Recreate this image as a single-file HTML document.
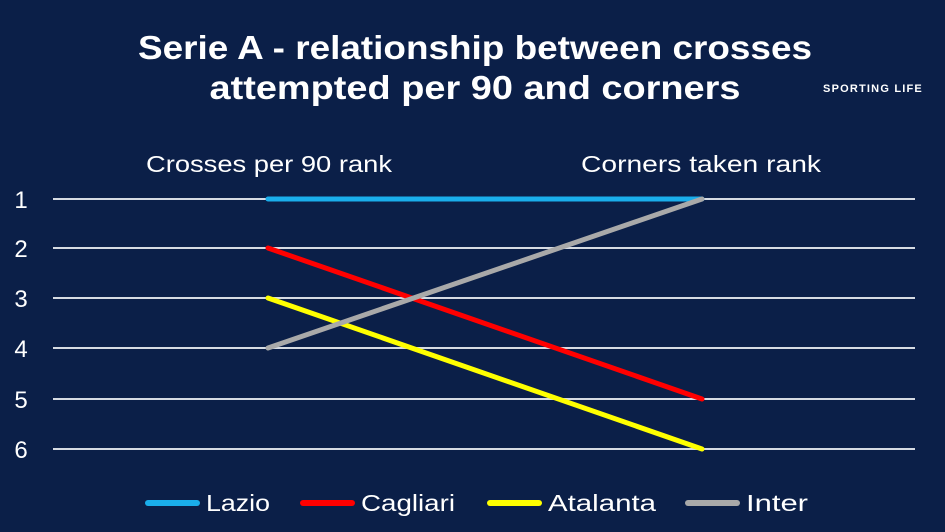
<!DOCTYPE html>
<html><head><style>
html,body{margin:0;padding:0;background:#0b1f48;}
svg{display:block}
text{font-family:"Liberation Sans",sans-serif;fill:#fff}
</style></head><body>
<svg width="945" height="532" viewBox="0 0 945 532">
<rect width="945" height="532" fill="#0b1f48"/>
<text x="475" y="59" font-size="33" font-weight="bold" text-anchor="middle" textLength="674" lengthAdjust="spacingAndGlyphs">Serie A - relationship between crosses</text>
<text x="475" y="99" font-size="33" font-weight="bold" text-anchor="middle" textLength="531" lengthAdjust="spacingAndGlyphs">attempted per 90 and corners</text>
<text x="873" y="92" font-size="11" font-weight="bold" text-anchor="middle" letter-spacing="1.2">SPORTING LIFE</text>
<text x="269" y="172" font-size="23" text-anchor="middle" textLength="246" lengthAdjust="spacingAndGlyphs">Crosses per 90 rank</text>
<text x="701" y="172" font-size="23" text-anchor="middle" textLength="240" lengthAdjust="spacingAndGlyphs">Corners taken rank</text>
<g stroke="#d6dbe3" stroke-width="2">
<line x1="53" y1="199" x2="915" y2="199"/>
<line x1="53" y1="248" x2="915" y2="248"/>
<line x1="53" y1="298" x2="915" y2="298"/>
<line x1="53" y1="348" x2="915" y2="348"/>
<line x1="53" y1="399" x2="915" y2="399"/>
<line x1="53" y1="449" x2="915" y2="449"/>
</g>
<g font-size="24" text-anchor="middle">
<text x="21" y="208">1</text><text x="21" y="257">2</text><text x="21" y="307">3</text>
<text x="21" y="357">4</text><text x="21" y="408">5</text><text x="21" y="458">6</text>
</g>
<g stroke-width="5" stroke-linecap="round" fill="none">
<line x1="268" y1="199" x2="702" y2="199" stroke="#1aaeeb"/>
<line x1="268" y1="248" x2="702" y2="399" stroke="#ff0000"/>
<line x1="268" y1="298" x2="702" y2="449" stroke="#ffff00"/>
<line x1="268" y1="348" x2="702" y2="199" stroke="#a9a9a9"/>
</g>
<g stroke-width="6" stroke-linecap="round">
<line x1="148" y1="503" x2="197" y2="503" stroke="#1aaeeb"/>
<line x1="303" y1="503" x2="352" y2="503" stroke="#ff0000"/>
<line x1="490" y1="503" x2="539" y2="503" stroke="#ffff00"/>
<line x1="688" y1="503" x2="737" y2="503" stroke="#a9a9a9"/>
</g>
<g font-size="23">
<text x="206" y="511" textLength="64" lengthAdjust="spacingAndGlyphs">Lazio</text>
<text x="361" y="511" textLength="94" lengthAdjust="spacingAndGlyphs">Cagliari</text>
<text x="548" y="511" textLength="108" lengthAdjust="spacingAndGlyphs">Atalanta</text>
<text x="746" y="511" textLength="62" lengthAdjust="spacingAndGlyphs">Inter</text>
</g>
</svg>
</body></html>
